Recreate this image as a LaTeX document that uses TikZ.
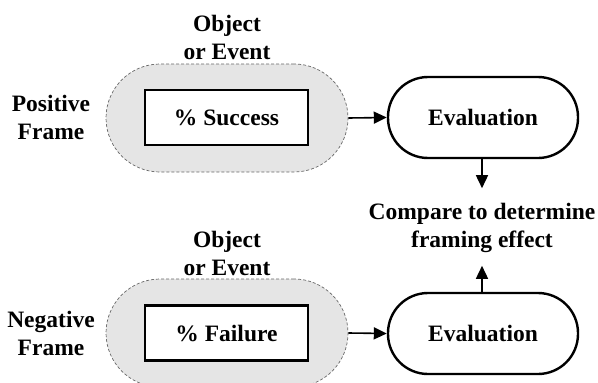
\documentclass[tikz,border=0pt]{standalone}
\usepackage{fontspec}
\setmainfont{Liberation Serif}
\usetikzlibrary{arrows.meta}
\begin{document}
\begin{tikzpicture}[x=1pt,y=-1pt,
  lbl/.style={font=\bfseries\fontsize{23.5}{28}\selectfont, align=center, inner sep=0pt},
  frame/.style={draw=black!60, dashed, dash pattern=on 3pt off 2pt, line width=0.7pt, fill=black!10,
    rounded corners=54pt, minimum width=242pt, minimum height=108pt, inner sep=0pt},
  item/.style={draw, line width=2.6pt, fill=white, minimum width=163pt, minimum height=55pt, inner sep=0pt,
    font=\bfseries\fontsize{23.5}{28}\selectfont},
  evalbox/.style={draw, line width=2.4pt, fill=white, rounded corners=40pt, minimum width=190pt,
    minimum height=81pt, inner sep=0pt, font=\bfseries\fontsize{23.5}{28}\selectfont},
  arr/.style={line width=1.6pt, -{Triangle[length=13pt,width=12pt]}}
]
\useasboundingbox (0,0) rectangle (598,383);

% positive frame
\node[frame] (capA) at (227,118) {};
\node[item] (succ) at (226.5,117.5) {\% Success};
\node[lbl] (objA) at (227,37) {Object\\or Event};
\node[lbl] (posF) at (51,117) {Positive\\Frame};
\node[evalbox] (evA) at (483,117.5) {Evaluation};

% negative frame
\node[frame] (capB) at (227,333) {};
\node[item] (fail) at (226.5,333) {\% Failure};
\node[lbl] (objB) at (227,253) {Object\\or Event};
\node[lbl] (negF) at (51,333) {Negative\\Frame};
\node[evalbox] (evB) at (483,333.5) {Evaluation};

% comparison
\node[lbl] (cmp) at (482,228) {Compare to determine\\framing effect};

\draw[arr] (capA.east) -- (evA.west);
\draw[arr] (capB.east) -- (evB.west);
\draw[arr] (evA.south -| cmp.north) -- ++(0,29);
\draw[arr] (evB.north -| cmp.south) -- ++(0,-26);
\end{tikzpicture}
\end{document}
